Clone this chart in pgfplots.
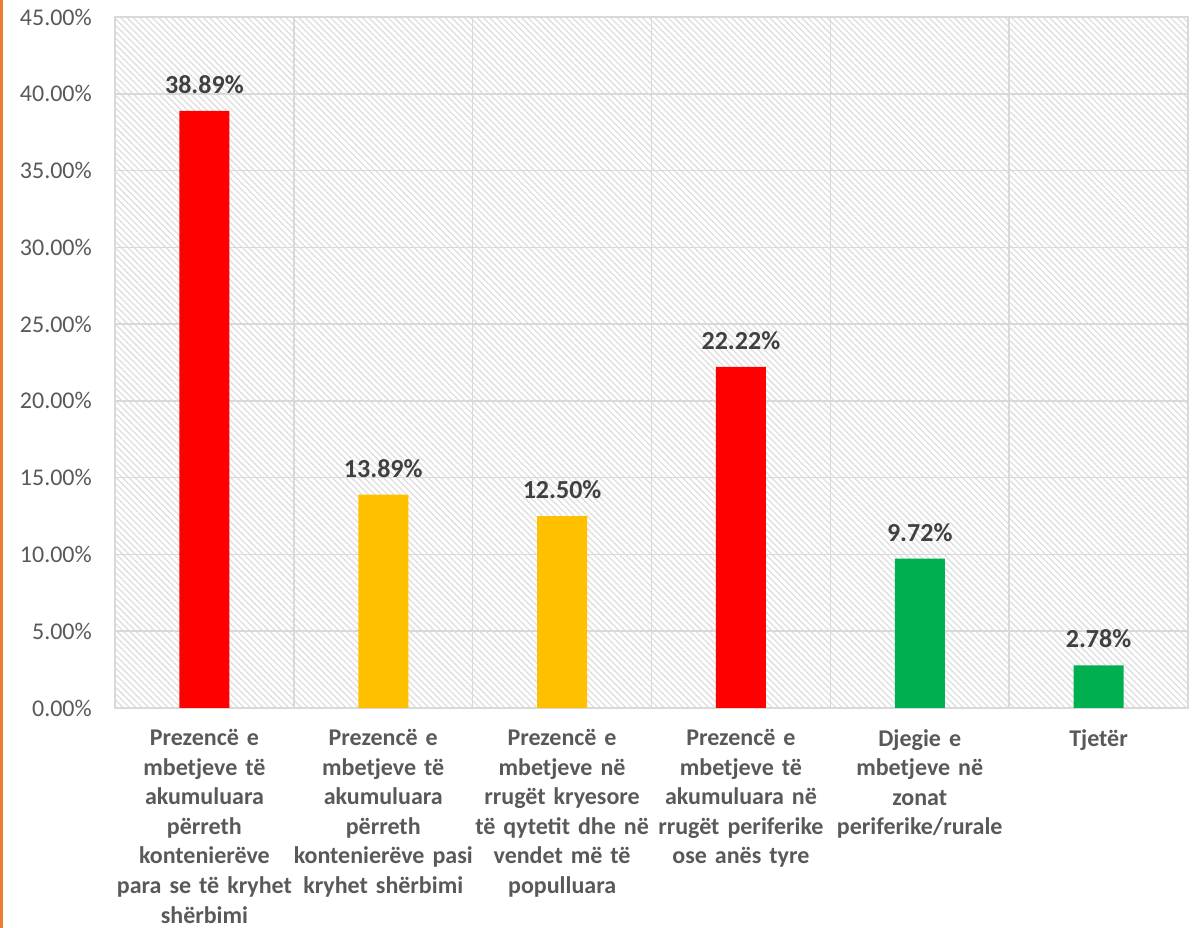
\documentclass[border=0pt]{standalone}
\usepackage{pgfplots}
\pgfplotsset{compat=1.18}
\usepackage{fontspec}
\setmainfont{Carlito}
\usetikzlibrary{patterns.meta}
\definecolor{cred}{HTML}{FF0000}
\definecolor{camber}{HTML}{FFC000}
\definecolor{cgreen}{HTML}{00B050}
\definecolor{gridc}{HTML}{D9D9D9}
\definecolor{ticktext}{HTML}{595959}
\definecolor{labtext}{HTML}{404040}
\definecolor{corange}{HTML}{ED7D31}
\begin{document}
\begin{tikzpicture}
\useasboundingbox (0,0) rectangle (1195pt,928pt);
\fill[corange] (0,0) rectangle (3pt,928pt);
\begin{axis}[
  at={(115pt,220pt)}, anchor=south west,
  scale only axis, width=1073pt, height=691pt,
  xmin=-0.5, xmax=5.5, ymin=0, ymax=45,
  axis background/.style={pattern={Lines[angle=-45,distance=4.5pt,line width=1.3pt]}, pattern color=black!13},
  axis line style={draw=gridc, line width=1.5pt},
  ytick={0,5,...,45},
  yticklabels={0.00\%,5.00\%,10.00\%,15.00\%,20.00\%,25.00\%,30.00\%,35.00\%,40.00\%,45.00\%},
  yticklabel style={font=\fontsize{24}{29}\selectfont, text=ticktext, anchor=east, inner sep=0pt, xshift=-23pt},
  xtick={0,...,5},
  xticklabels={
    {Prezencë e\\mbetjeve të\\akumuluara\\përreth\\kontenierëve\\para se të kryhet\\shërbimi},
    {Prezencë e\\mbetjeve të\\akumuluara\\përreth\\kontenierëve pasi\\kryhet shërbimi},
    {Prezencë e\\mbetjeve në\\rrugët kryesore\\të qytetit dhe në\\vendet më të\\populluara},
    {Prezencë e\\mbetjeve të\\akumuluara në\\rrugët periferike\\ose anës tyre},
    {Djegie e\\mbetjeve në\\zonat\\periferike/rurale},
    {Tjetër}},
  xticklabel style={font=\fontsize{24}{29.6}\selectfont\bfseries, text=ticktext, align=center, text width=190pt, anchor=north, inner sep=0pt, yshift=-21pt},
  major tick length=0pt, minor tick length=0pt,
  minor xtick={-0.5,0.5,...,5.5},
  ymajorgrids, xminorgrids,
  major grid style={draw=gridc, line width=1.5pt},
  minor grid style={draw=gridc, line width=1.5pt},
  ybar, bar width=50pt,
  nodes near coords={\pgfmathprintnumber[fixed,fixed zerofill,precision=2,assume math mode=true]{\pgfplotspointmeta}\%},
  nodes near coords style={font=\fontsize{26}{30}\selectfont\bfseries, text=labtext, anchor=south, inner sep=0pt, yshift=17pt},
  clip=false,
]
\addplot[fill=cred, draw=none, bar shift=0pt] coordinates {(0,38.89) (3,22.22)};
\addplot[fill=camber, draw=none, bar shift=0pt] coordinates {(1,13.89) (2,12.50)};
\addplot[fill=cgreen, draw=none, bar shift=0pt] coordinates {(4,9.72) (5,2.78)};
\end{axis}
\end{tikzpicture}
\end{document}
